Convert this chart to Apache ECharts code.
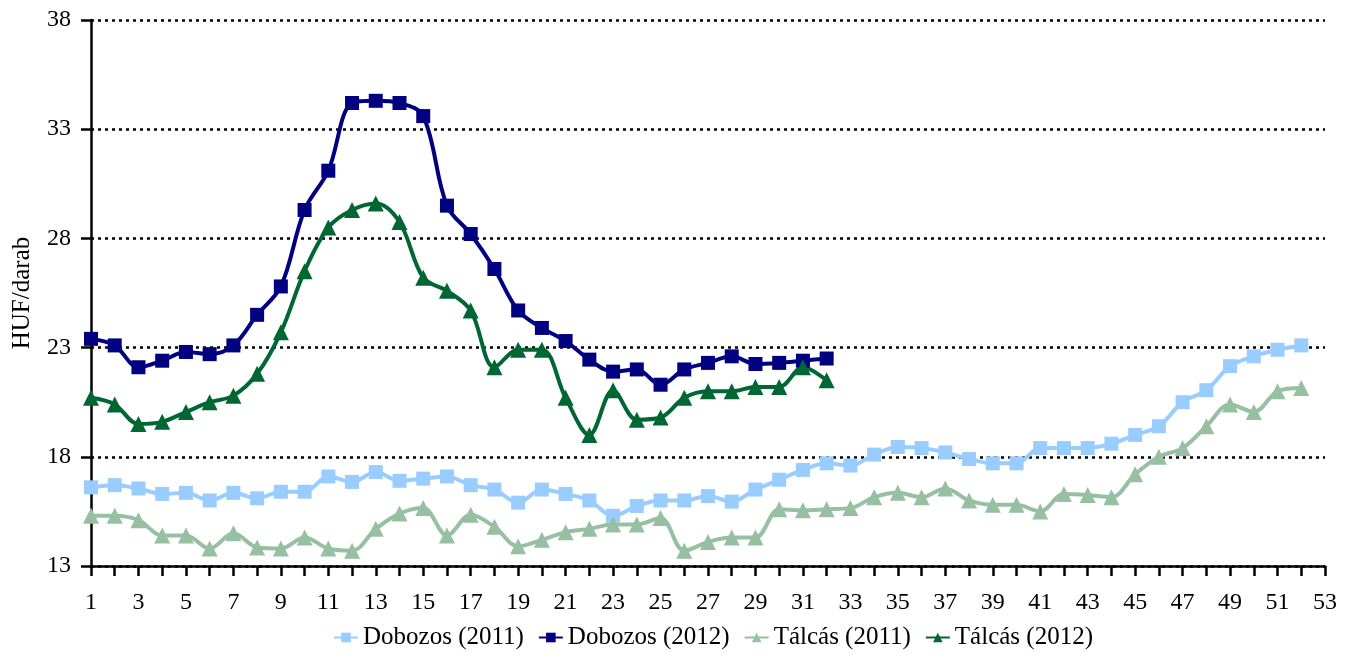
<!DOCTYPE html>
<html>
<head>
<meta charset="utf-8">
<script src="https://cdn.jsdelivr.net/npm/echarts@6/dist/echarts.min.js"></script>
<style>
  html, body { margin: 0; padding: 0; background: #fff; }
  #chart { width: 1353px; height: 660px; }
</style>
</head>
<body>
<div id="chart"></div>
<script>
// weeks 1..53
const weeks = Array.from({ length: 53 }, (_, i) => String(i + 1))

const dobozos2011 = [16.6, 16.7, 16.55, 16.3, 16.35, 16.0, 16.35, 16.1, 16.4, 16.4,
  17.1, 16.85, 17.3, 16.9, 17.0, 17.1, 16.7, 16.5, 15.9, 16.5,
  16.3, 16.0, 15.3, 15.75, 16.0, 16.0, 16.2, 15.95, 16.5, 16.95,
  17.4, 17.7, 17.6, 18.1, 18.45, 18.4, 18.2, 17.9, 17.7, 17.7,
  18.4, 18.4, 18.4, 18.6, 19.0, 19.4, 20.5, 21.05, 22.15, 22.6,
  22.9, 23.1]

const dobozos2012 = [23.4, 23.1, 22.1, 22.4, 22.8, 22.7, 23.1, 24.5, 25.8, 29.3,
  31.1, 34.2, 34.3, 34.2, 33.6, 29.5, 28.2, 26.6, 24.7, 23.9,
  23.3, 22.45, 21.9, 22.0, 21.3, 22.0, 22.3, 22.6, 22.25, 22.3,
  22.4, 22.5]

const talcas2011 = [15.3, 15.3, 15.1, 14.4, 14.4, 13.8, 14.5, 13.85, 13.8, 14.3,
  13.8, 13.7, 14.7, 15.4, 15.65, 14.4, 15.35, 14.8, 13.9, 14.2,
  14.55, 14.7, 14.9, 14.9, 15.2, 13.7, 14.1, 14.3, 14.3, 15.6,
  15.55, 15.6, 15.65, 16.15, 16.35, 16.15, 16.55, 16.0, 15.8, 15.8,
  15.5, 16.3, 16.25, 16.15, 17.2, 18.0, 18.4, 19.4, 20.4, 20.05,
  21.0, 21.15]

const talcas2012 = [20.7, 20.4, 19.5, 19.6, 20.05, 20.5, 20.8, 21.8, 23.7, 26.5,
  28.5, 29.3, 29.6, 28.75, 26.2, 25.6, 24.7, 22.1, 22.9, 22.9,
  20.7, 19.0, 21.05, 19.7, 19.8, 20.7, 21.0, 21.0, 21.2, 21.2,
  22.1, 21.5]

const font = 'Liberation Serif'

const chart = echarts.init(document.getElementById('chart'))

const makeSeries = (name, data, color, symbol) => ({
  name: name,
  type: 'line',
  data: data,
  smooth: 0.35,
  symbol: symbol,
  symbolSize: symbol === 'rect' ? 14 : 16,
  showSymbol: true,
  showAllSymbol: true,
  lineStyle: { color: color, width: 4 },
  itemStyle: { color: color },
  animation: false
})

chart.setOption({
  backgroundColor: '#fff',
  textStyle: { fontFamily: font },
  grid: { left: 91, right: 28, top: 20, bottom: 94 },
  legend: {
    bottom: 5,
    left: 328,
    itemWidth: 24,
    itemHeight: 12,
    itemGap: 14,
    textStyle: { fontFamily: font, fontSize: 25, color: '#000' },
    data: ['Dobozos (2011)', 'Dobozos (2012)', 'Tálcás (2011)', 'Tálcás (2012)']
  },
  xAxis: {
    type: 'category',
    data: weeks,
    boundaryGap: false,
    axisLine: { lineStyle: { color: '#000', width: 2.5 } },
    axisTick: { show: true, interval: 0, length: 10, lineStyle: { color: '#000', width: 2.5 } },
    axisLabel: { interval: 1, color: '#000', fontFamily: font, fontSize: 24, margin: 25 },
    splitLine: { show: false }
  },
  yAxis: {
    type: 'value',
    min: 13,
    max: 38,
    interval: 5,
    name: 'HUF/darab',
    nameLocation: 'middle',
    nameGap: 56,
    nameRotate: 90,
    nameTextStyle: { color: '#000', fontFamily: font, fontSize: 25 },
    axisLine: { show: true, lineStyle: { color: '#000', width: 2.5 } },
    axisTick: { show: true, length: 10, lineStyle: { color: '#000', width: 2.5 } },
    axisLabel: { color: '#000', fontFamily: font, fontSize: 24, margin: 20 },
    splitLine: { show: true, lineStyle: { color: '#000', width: 2.5, type: [3, 4] } }
  },
  series: [
    makeSeries('Dobozos (2011)', dobozos2011, '#99CCFF', 'rect'),
    makeSeries('Dobozos (2012)', dobozos2012, '#000080', 'rect'),
    makeSeries('Tálcás (2011)', talcas2011, '#97BFA1', 'triangle'),
    makeSeries('Tálcás (2012)', talcas2012, '#006633', 'triangle')
  ]
})
</script>
</body>
</html>
